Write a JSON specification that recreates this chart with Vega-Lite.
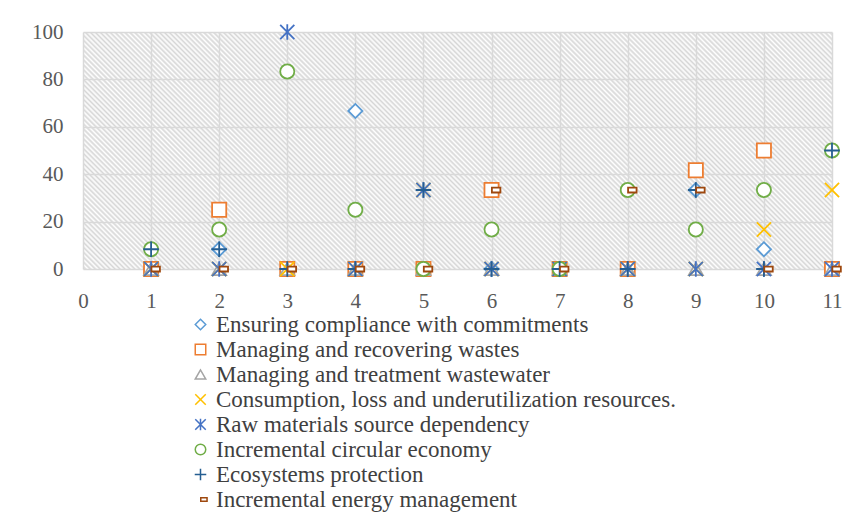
{
  "$schema": "https://vega.github.io/schema/vega-lite/v6.json",
  "width": 749,
  "height": 237,
  "autosize": {"type": "none"},
  "padding": {"left": 83, "top": 32, "right": 19, "bottom": 243},
  "background": "white",
  "config": {
    "view": {"stroke": null, "fill": {"gradient": "linear", "x1": 0, "y1": 1, "x2": 1.1966, "y2": 0.6214, "stops": [
      {"offset":0,"color":"#fff"},{"offset":0.0025,"color":"#d6d6d6"},{"offset":0.005,"color":"#fff"},{"offset":0.0075,"color":"#d6d6d6"},
      {"offset":0.01,"color":"#fff"},{"offset":0.0125,"color":"#d6d6d6"},{"offset":0.015,"color":"#fff"},{"offset":0.0175,"color":"#d6d6d6"},
      {"offset":0.02,"color":"#fff"},{"offset":0.0225,"color":"#d6d6d6"},{"offset":0.025,"color":"#fff"},{"offset":0.0275,"color":"#d6d6d6"},
      {"offset":0.03,"color":"#fff"},{"offset":0.0325,"color":"#d6d6d6"},{"offset":0.035,"color":"#fff"},{"offset":0.0375,"color":"#d6d6d6"},
      {"offset":0.04,"color":"#fff"},{"offset":0.0425,"color":"#d6d6d6"},{"offset":0.045,"color":"#fff"},{"offset":0.0475,"color":"#d6d6d6"},
      {"offset":0.05,"color":"#fff"},{"offset":0.0525,"color":"#d6d6d6"},{"offset":0.055,"color":"#fff"},{"offset":0.0575,"color":"#d6d6d6"},
      {"offset":0.06,"color":"#fff"},{"offset":0.0625,"color":"#d6d6d6"},{"offset":0.065,"color":"#fff"},{"offset":0.0675,"color":"#d6d6d6"},
      {"offset":0.07,"color":"#fff"},{"offset":0.0725,"color":"#d6d6d6"},{"offset":0.075,"color":"#fff"},{"offset":0.0775,"color":"#d6d6d6"},
      {"offset":0.08,"color":"#fff"},{"offset":0.0825,"color":"#d6d6d6"},{"offset":0.085,"color":"#fff"},{"offset":0.0875,"color":"#d6d6d6"},
      {"offset":0.09,"color":"#fff"},{"offset":0.0925,"color":"#d6d6d6"},{"offset":0.095,"color":"#fff"},{"offset":0.0975,"color":"#d6d6d6"},
      {"offset":0.1,"color":"#fff"},{"offset":0.1025,"color":"#d6d6d6"},{"offset":0.105,"color":"#fff"},{"offset":0.1075,"color":"#d6d6d6"},
      {"offset":0.11,"color":"#fff"},{"offset":0.1125,"color":"#d6d6d6"},{"offset":0.115,"color":"#fff"},{"offset":0.1175,"color":"#d6d6d6"},
      {"offset":0.12,"color":"#fff"},{"offset":0.1225,"color":"#d6d6d6"},{"offset":0.125,"color":"#fff"},{"offset":0.1275,"color":"#d6d6d6"},
      {"offset":0.13,"color":"#fff"},{"offset":0.1325,"color":"#d6d6d6"},{"offset":0.135,"color":"#fff"},{"offset":0.1375,"color":"#d6d6d6"},
      {"offset":0.14,"color":"#fff"},{"offset":0.1425,"color":"#d6d6d6"},{"offset":0.145,"color":"#fff"},{"offset":0.1475,"color":"#d6d6d6"},
      {"offset":0.15,"color":"#fff"},{"offset":0.1525,"color":"#d6d6d6"},{"offset":0.155,"color":"#fff"},{"offset":0.1575,"color":"#d6d6d6"},
      {"offset":0.16,"color":"#fff"},{"offset":0.1625,"color":"#d6d6d6"},{"offset":0.165,"color":"#fff"},{"offset":0.1675,"color":"#d6d6d6"},
      {"offset":0.17,"color":"#fff"},{"offset":0.1725,"color":"#d6d6d6"},{"offset":0.175,"color":"#fff"},{"offset":0.1775,"color":"#d6d6d6"},
      {"offset":0.18,"color":"#fff"},{"offset":0.1825,"color":"#d6d6d6"},{"offset":0.185,"color":"#fff"},{"offset":0.1875,"color":"#d6d6d6"},
      {"offset":0.19,"color":"#fff"},{"offset":0.1925,"color":"#d6d6d6"},{"offset":0.195,"color":"#fff"},{"offset":0.1975,"color":"#d6d6d6"},
      {"offset":0.2,"color":"#fff"},{"offset":0.2025,"color":"#d6d6d6"},{"offset":0.205,"color":"#fff"},{"offset":0.2075,"color":"#d6d6d6"},
      {"offset":0.21,"color":"#fff"},{"offset":0.2125,"color":"#d6d6d6"},{"offset":0.215,"color":"#fff"},{"offset":0.2175,"color":"#d6d6d6"},
      {"offset":0.22,"color":"#fff"},{"offset":0.2225,"color":"#d6d6d6"},{"offset":0.225,"color":"#fff"},{"offset":0.2275,"color":"#d6d6d6"},
      {"offset":0.23,"color":"#fff"},{"offset":0.2325,"color":"#d6d6d6"},{"offset":0.235,"color":"#fff"},{"offset":0.2375,"color":"#d6d6d6"},
      {"offset":0.24,"color":"#fff"},{"offset":0.2425,"color":"#d6d6d6"},{"offset":0.245,"color":"#fff"},{"offset":0.2475,"color":"#d6d6d6"},
      {"offset":0.25,"color":"#fff"},{"offset":0.2525,"color":"#d6d6d6"},{"offset":0.255,"color":"#fff"},{"offset":0.2575,"color":"#d6d6d6"},
      {"offset":0.26,"color":"#fff"},{"offset":0.2625,"color":"#d6d6d6"},{"offset":0.265,"color":"#fff"},{"offset":0.2675,"color":"#d6d6d6"},
      {"offset":0.27,"color":"#fff"},{"offset":0.2725,"color":"#d6d6d6"},{"offset":0.275,"color":"#fff"},{"offset":0.2775,"color":"#d6d6d6"},
      {"offset":0.28,"color":"#fff"},{"offset":0.2825,"color":"#d6d6d6"},{"offset":0.285,"color":"#fff"},{"offset":0.2875,"color":"#d6d6d6"},
      {"offset":0.29,"color":"#fff"},{"offset":0.2925,"color":"#d6d6d6"},{"offset":0.295,"color":"#fff"},{"offset":0.2975,"color":"#d6d6d6"},
      {"offset":0.3,"color":"#fff"},{"offset":0.3025,"color":"#d6d6d6"},{"offset":0.305,"color":"#fff"},{"offset":0.3075,"color":"#d6d6d6"},
      {"offset":0.31,"color":"#fff"},{"offset":0.3125,"color":"#d6d6d6"},{"offset":0.315,"color":"#fff"},{"offset":0.3175,"color":"#d6d6d6"},
      {"offset":0.32,"color":"#fff"},{"offset":0.3225,"color":"#d6d6d6"},{"offset":0.325,"color":"#fff"},{"offset":0.3275,"color":"#d6d6d6"},
      {"offset":0.33,"color":"#fff"},{"offset":0.3325,"color":"#d6d6d6"},{"offset":0.335,"color":"#fff"},{"offset":0.3375,"color":"#d6d6d6"},
      {"offset":0.34,"color":"#fff"},{"offset":0.3425,"color":"#d6d6d6"},{"offset":0.345,"color":"#fff"},{"offset":0.3475,"color":"#d6d6d6"},
      {"offset":0.35,"color":"#fff"},{"offset":0.3525,"color":"#d6d6d6"},{"offset":0.355,"color":"#fff"},{"offset":0.3575,"color":"#d6d6d6"},
      {"offset":0.36,"color":"#fff"},{"offset":0.3625,"color":"#d6d6d6"},{"offset":0.365,"color":"#fff"},{"offset":0.3675,"color":"#d6d6d6"},
      {"offset":0.37,"color":"#fff"},{"offset":0.3725,"color":"#d6d6d6"},{"offset":0.375,"color":"#fff"},{"offset":0.3775,"color":"#d6d6d6"},
      {"offset":0.38,"color":"#fff"},{"offset":0.3825,"color":"#d6d6d6"},{"offset":0.385,"color":"#fff"},{"offset":0.3875,"color":"#d6d6d6"},
      {"offset":0.39,"color":"#fff"},{"offset":0.3925,"color":"#d6d6d6"},{"offset":0.395,"color":"#fff"},{"offset":0.3975,"color":"#d6d6d6"},
      {"offset":0.4,"color":"#fff"},{"offset":0.4025,"color":"#d6d6d6"},{"offset":0.405,"color":"#fff"},{"offset":0.4075,"color":"#d6d6d6"},
      {"offset":0.41,"color":"#fff"},{"offset":0.4125,"color":"#d6d6d6"},{"offset":0.415,"color":"#fff"},{"offset":0.4175,"color":"#d6d6d6"},
      {"offset":0.42,"color":"#fff"},{"offset":0.4225,"color":"#d6d6d6"},{"offset":0.425,"color":"#fff"},{"offset":0.4275,"color":"#d6d6d6"},
      {"offset":0.43,"color":"#fff"},{"offset":0.4325,"color":"#d6d6d6"},{"offset":0.435,"color":"#fff"},{"offset":0.4375,"color":"#d6d6d6"},
      {"offset":0.44,"color":"#fff"},{"offset":0.4425,"color":"#d6d6d6"},{"offset":0.445,"color":"#fff"},{"offset":0.4475,"color":"#d6d6d6"},
      {"offset":0.45,"color":"#fff"},{"offset":0.4525,"color":"#d6d6d6"},{"offset":0.455,"color":"#fff"},{"offset":0.4575,"color":"#d6d6d6"},
      {"offset":0.46,"color":"#fff"},{"offset":0.4625,"color":"#d6d6d6"},{"offset":0.465,"color":"#fff"},{"offset":0.4675,"color":"#d6d6d6"},
      {"offset":0.47,"color":"#fff"},{"offset":0.4725,"color":"#d6d6d6"},{"offset":0.475,"color":"#fff"},{"offset":0.4775,"color":"#d6d6d6"},
      {"offset":0.48,"color":"#fff"},{"offset":0.4825,"color":"#d6d6d6"},{"offset":0.485,"color":"#fff"},{"offset":0.4875,"color":"#d6d6d6"},
      {"offset":0.49,"color":"#fff"},{"offset":0.4925,"color":"#d6d6d6"},{"offset":0.495,"color":"#fff"},{"offset":0.4975,"color":"#d6d6d6"},
      {"offset":0.5,"color":"#fff"},{"offset":0.5025,"color":"#d6d6d6"},{"offset":0.505,"color":"#fff"},{"offset":0.5075,"color":"#d6d6d6"},
      {"offset":0.51,"color":"#fff"},{"offset":0.5125,"color":"#d6d6d6"},{"offset":0.515,"color":"#fff"},{"offset":0.5175,"color":"#d6d6d6"},
      {"offset":0.52,"color":"#fff"},{"offset":0.5225,"color":"#d6d6d6"},{"offset":0.525,"color":"#fff"},{"offset":0.5275,"color":"#d6d6d6"},
      {"offset":0.53,"color":"#fff"},{"offset":0.5325,"color":"#d6d6d6"},{"offset":0.535,"color":"#fff"},{"offset":0.5375,"color":"#d6d6d6"},
      {"offset":0.54,"color":"#fff"},{"offset":0.5425,"color":"#d6d6d6"},{"offset":0.545,"color":"#fff"},{"offset":0.5475,"color":"#d6d6d6"},
      {"offset":0.55,"color":"#fff"},{"offset":0.5525,"color":"#d6d6d6"},{"offset":0.555,"color":"#fff"},{"offset":0.5575,"color":"#d6d6d6"},
      {"offset":0.56,"color":"#fff"},{"offset":0.5625,"color":"#d6d6d6"},{"offset":0.565,"color":"#fff"},{"offset":0.5675,"color":"#d6d6d6"},
      {"offset":0.57,"color":"#fff"},{"offset":0.5725,"color":"#d6d6d6"},{"offset":0.575,"color":"#fff"},{"offset":0.5775,"color":"#d6d6d6"},
      {"offset":0.58,"color":"#fff"},{"offset":0.5825,"color":"#d6d6d6"},{"offset":0.585,"color":"#fff"},{"offset":0.5875,"color":"#d6d6d6"},
      {"offset":0.59,"color":"#fff"},{"offset":0.5925,"color":"#d6d6d6"},{"offset":0.595,"color":"#fff"},{"offset":0.5975,"color":"#d6d6d6"},
      {"offset":0.6,"color":"#fff"},{"offset":0.6025,"color":"#d6d6d6"},{"offset":0.605,"color":"#fff"},{"offset":0.6075,"color":"#d6d6d6"},
      {"offset":0.61,"color":"#fff"},{"offset":0.6125,"color":"#d6d6d6"},{"offset":0.615,"color":"#fff"},{"offset":0.6175,"color":"#d6d6d6"},
      {"offset":0.62,"color":"#fff"},{"offset":0.6225,"color":"#d6d6d6"},{"offset":0.625,"color":"#fff"},{"offset":0.6275,"color":"#d6d6d6"},
      {"offset":0.63,"color":"#fff"},{"offset":0.6325,"color":"#d6d6d6"},{"offset":0.635,"color":"#fff"},{"offset":0.6375,"color":"#d6d6d6"},
      {"offset":0.64,"color":"#fff"},{"offset":0.6425,"color":"#d6d6d6"},{"offset":0.645,"color":"#fff"},{"offset":0.6475,"color":"#d6d6d6"},
      {"offset":0.65,"color":"#fff"},{"offset":0.6525,"color":"#d6d6d6"},{"offset":0.655,"color":"#fff"},{"offset":0.6575,"color":"#d6d6d6"},
      {"offset":0.66,"color":"#fff"},{"offset":0.6625,"color":"#d6d6d6"},{"offset":0.665,"color":"#fff"},{"offset":0.6675,"color":"#d6d6d6"},
      {"offset":0.67,"color":"#fff"},{"offset":0.6725,"color":"#d6d6d6"},{"offset":0.675,"color":"#fff"},{"offset":0.6775,"color":"#d6d6d6"},
      {"offset":0.68,"color":"#fff"},{"offset":0.6825,"color":"#d6d6d6"},{"offset":0.685,"color":"#fff"},{"offset":0.6875,"color":"#d6d6d6"},
      {"offset":0.69,"color":"#fff"},{"offset":0.6925,"color":"#d6d6d6"},{"offset":0.695,"color":"#fff"},{"offset":0.6975,"color":"#d6d6d6"},
      {"offset":0.7,"color":"#fff"},{"offset":0.7025,"color":"#d6d6d6"},{"offset":0.705,"color":"#fff"},{"offset":0.7075,"color":"#d6d6d6"},
      {"offset":0.71,"color":"#fff"},{"offset":0.7125,"color":"#d6d6d6"},{"offset":0.715,"color":"#fff"},{"offset":0.7175,"color":"#d6d6d6"},
      {"offset":0.72,"color":"#fff"},{"offset":0.7225,"color":"#d6d6d6"},{"offset":0.725,"color":"#fff"},{"offset":0.7275,"color":"#d6d6d6"},
      {"offset":0.73,"color":"#fff"},{"offset":0.7325,"color":"#d6d6d6"},{"offset":0.735,"color":"#fff"},{"offset":0.7375,"color":"#d6d6d6"},
      {"offset":0.74,"color":"#fff"},{"offset":0.7425,"color":"#d6d6d6"},{"offset":0.745,"color":"#fff"},{"offset":0.7475,"color":"#d6d6d6"},
      {"offset":0.75,"color":"#fff"},{"offset":0.7525,"color":"#d6d6d6"},{"offset":0.755,"color":"#fff"},{"offset":0.7575,"color":"#d6d6d6"},
      {"offset":0.76,"color":"#fff"},{"offset":0.7625,"color":"#d6d6d6"},{"offset":0.765,"color":"#fff"},{"offset":0.7675,"color":"#d6d6d6"},
      {"offset":0.77,"color":"#fff"},{"offset":0.7725,"color":"#d6d6d6"},{"offset":0.775,"color":"#fff"},{"offset":0.7775,"color":"#d6d6d6"},
      {"offset":0.78,"color":"#fff"},{"offset":0.7825,"color":"#d6d6d6"},{"offset":0.785,"color":"#fff"},{"offset":0.7875,"color":"#d6d6d6"},
      {"offset":0.79,"color":"#fff"},{"offset":0.7925,"color":"#d6d6d6"},{"offset":0.795,"color":"#fff"},{"offset":0.7975,"color":"#d6d6d6"},
      {"offset":0.8,"color":"#fff"},{"offset":0.8025,"color":"#d6d6d6"},{"offset":0.805,"color":"#fff"},{"offset":0.8075,"color":"#d6d6d6"},
      {"offset":0.81,"color":"#fff"},{"offset":0.8125,"color":"#d6d6d6"},{"offset":0.815,"color":"#fff"},{"offset":0.8175,"color":"#d6d6d6"},
      {"offset":0.82,"color":"#fff"},{"offset":0.8225,"color":"#d6d6d6"},{"offset":0.825,"color":"#fff"},{"offset":0.8275,"color":"#d6d6d6"},
      {"offset":0.83,"color":"#fff"},{"offset":0.8325,"color":"#d6d6d6"},{"offset":0.835,"color":"#fff"},{"offset":0.8375,"color":"#d6d6d6"},
      {"offset":0.84,"color":"#fff"},{"offset":0.8425,"color":"#d6d6d6"},{"offset":0.845,"color":"#fff"},{"offset":0.8475,"color":"#d6d6d6"},
      {"offset":0.85,"color":"#fff"},{"offset":0.8525,"color":"#d6d6d6"},{"offset":0.855,"color":"#fff"},{"offset":0.8575,"color":"#d6d6d6"},
      {"offset":0.86,"color":"#fff"},{"offset":0.8625,"color":"#d6d6d6"},{"offset":0.865,"color":"#fff"},{"offset":0.8675,"color":"#d6d6d6"},
      {"offset":0.87,"color":"#fff"},{"offset":0.8725,"color":"#d6d6d6"},{"offset":0.875,"color":"#fff"},{"offset":0.8775,"color":"#d6d6d6"},
      {"offset":0.88,"color":"#fff"},{"offset":0.8825,"color":"#d6d6d6"},{"offset":0.885,"color":"#fff"},{"offset":0.8875,"color":"#d6d6d6"},
      {"offset":0.89,"color":"#fff"},{"offset":0.8925,"color":"#d6d6d6"},{"offset":0.895,"color":"#fff"},{"offset":0.8975,"color":"#d6d6d6"},
      {"offset":0.9,"color":"#fff"},{"offset":0.9025,"color":"#d6d6d6"},{"offset":0.905,"color":"#fff"},{"offset":0.9075,"color":"#d6d6d6"},
      {"offset":0.91,"color":"#fff"},{"offset":0.9125,"color":"#d6d6d6"},{"offset":0.915,"color":"#fff"},{"offset":0.9175,"color":"#d6d6d6"},
      {"offset":0.92,"color":"#fff"},{"offset":0.9225,"color":"#d6d6d6"},{"offset":0.925,"color":"#fff"},{"offset":0.9275,"color":"#d6d6d6"},
      {"offset":0.93,"color":"#fff"},{"offset":0.9325,"color":"#d6d6d6"},{"offset":0.935,"color":"#fff"},{"offset":0.9375,"color":"#d6d6d6"},
      {"offset":0.94,"color":"#fff"},{"offset":0.9425,"color":"#d6d6d6"},{"offset":0.945,"color":"#fff"},{"offset":0.9475,"color":"#d6d6d6"},
      {"offset":0.95,"color":"#fff"},{"offset":0.9525,"color":"#d6d6d6"},{"offset":0.955,"color":"#fff"},{"offset":0.9575,"color":"#d6d6d6"},
      {"offset":0.96,"color":"#fff"},{"offset":0.9625,"color":"#d6d6d6"},{"offset":0.965,"color":"#fff"},{"offset":0.9675,"color":"#d6d6d6"},
      {"offset":0.97,"color":"#fff"},{"offset":0.9725,"color":"#d6d6d6"},{"offset":0.975,"color":"#fff"},{"offset":0.9775,"color":"#d6d6d6"},
      {"offset":0.98,"color":"#fff"},{"offset":0.9825,"color":"#d6d6d6"},{"offset":0.985,"color":"#fff"},{"offset":0.9875,"color":"#d6d6d6"},
      {"offset":0.99,"color":"#fff"},{"offset":0.9925,"color":"#d6d6d6"},{"offset":0.995,"color":"#fff"},{"offset":0.9975,"color":"#d6d6d6"},
      {"offset":1,"color":"#fff"}
    ]}},
    "font": "Liberation Serif"
  },
  "data": {
    "values": [
      {"series": "Ensuring compliance with commitments", "x": 1, "y": 0},
      {"series": "Ensuring compliance with commitments", "x": 2, "y": 8.33},
      {"series": "Ensuring compliance with commitments", "x": 3, "y": 0},
      {"series": "Ensuring compliance with commitments", "x": 4, "y": 66.67},
      {"series": "Ensuring compliance with commitments", "x": 5, "y": 0},
      {"series": "Ensuring compliance with commitments", "x": 6, "y": 0},
      {"series": "Ensuring compliance with commitments", "x": 7, "y": 0},
      {"series": "Ensuring compliance with commitments", "x": 8, "y": 0},
      {"series": "Ensuring compliance with commitments", "x": 9, "y": 33.33},
      {"series": "Ensuring compliance with commitments", "x": 10, "y": 8.33},
      {"series": "Ensuring compliance with commitments", "x": 11, "y": 0},
      {"series": "Managing and recovering wastes", "x": 1, "y": 0},
      {"series": "Managing and recovering wastes", "x": 2, "y": 25},
      {"series": "Managing and recovering wastes", "x": 3, "y": 0},
      {"series": "Managing and recovering wastes", "x": 4, "y": 0},
      {"series": "Managing and recovering wastes", "x": 5, "y": 0},
      {"series": "Managing and recovering wastes", "x": 6, "y": 33.33},
      {"series": "Managing and recovering wastes", "x": 7, "y": 0},
      {"series": "Managing and recovering wastes", "x": 8, "y": 0},
      {"series": "Managing and recovering wastes", "x": 9, "y": 41.67},
      {"series": "Managing and recovering wastes", "x": 10, "y": 50},
      {"series": "Managing and recovering wastes", "x": 11, "y": 0},
      {"series": "Managing and treatment wastewater", "x": 1, "y": 0},
      {"series": "Managing and treatment wastewater", "x": 2, "y": 0},
      {"series": "Managing and treatment wastewater", "x": 3, "y": 0},
      {"series": "Managing and treatment wastewater", "x": 4, "y": 0},
      {"series": "Managing and treatment wastewater", "x": 5, "y": 0},
      {"series": "Managing and treatment wastewater", "x": 6, "y": 0},
      {"series": "Managing and treatment wastewater", "x": 7, "y": 0},
      {"series": "Managing and treatment wastewater", "x": 8, "y": 0},
      {"series": "Managing and treatment wastewater", "x": 9, "y": 0},
      {"series": "Managing and treatment wastewater", "x": 10, "y": 0},
      {"series": "Managing and treatment wastewater", "x": 11, "y": 0},
      {"series": "Consumption, loss and underutilization resources.", "x": 1, "y": 0},
      {"series": "Consumption, loss and underutilization resources.", "x": 2, "y": 0},
      {"series": "Consumption, loss and underutilization resources.", "x": 3, "y": 0},
      {"series": "Consumption, loss and underutilization resources.", "x": 4, "y": 0},
      {"series": "Consumption, loss and underutilization resources.", "x": 5, "y": 33.33},
      {"series": "Consumption, loss and underutilization resources.", "x": 6, "y": 0},
      {"series": "Consumption, loss and underutilization resources.", "x": 7, "y": 0},
      {"series": "Consumption, loss and underutilization resources.", "x": 8, "y": 0},
      {"series": "Consumption, loss and underutilization resources.", "x": 9, "y": 0},
      {"series": "Consumption, loss and underutilization resources.", "x": 10, "y": 16.67},
      {"series": "Consumption, loss and underutilization resources.", "x": 11, "y": 33.33},
      {"series": "Raw materials source dependency", "x": 1, "y": 0},
      {"series": "Raw materials source dependency", "x": 2, "y": 0},
      {"series": "Raw materials source dependency", "x": 3, "y": 100},
      {"series": "Raw materials source dependency", "x": 4, "y": 0},
      {"series": "Raw materials source dependency", "x": 5, "y": 33.33},
      {"series": "Raw materials source dependency", "x": 6, "y": 0},
      {"series": "Raw materials source dependency", "x": 7, "y": 0},
      {"series": "Raw materials source dependency", "x": 8, "y": 0},
      {"series": "Raw materials source dependency", "x": 9, "y": 0},
      {"series": "Raw materials source dependency", "x": 10, "y": 0},
      {"series": "Raw materials source dependency", "x": 11, "y": 0},
      {"series": "Incremental circular economy", "x": 1, "y": 8.33},
      {"series": "Incremental circular economy", "x": 2, "y": 16.67},
      {"series": "Incremental circular economy", "x": 3, "y": 83.33},
      {"series": "Incremental circular economy", "x": 4, "y": 25},
      {"series": "Incremental circular economy", "x": 5, "y": 0},
      {"series": "Incremental circular economy", "x": 6, "y": 16.67},
      {"series": "Incremental circular economy", "x": 7, "y": 0},
      {"series": "Incremental circular economy", "x": 8, "y": 33.33},
      {"series": "Incremental circular economy", "x": 9, "y": 16.67},
      {"series": "Incremental circular economy", "x": 10, "y": 33.33},
      {"series": "Incremental circular economy", "x": 11, "y": 50},
      {"series": "Ecosystems protection", "x": 1, "y": 8.33},
      {"series": "Ecosystems protection", "x": 2, "y": 8.33},
      {"series": "Ecosystems protection", "x": 3, "y": 0},
      {"series": "Ecosystems protection", "x": 4, "y": 0},
      {"series": "Ecosystems protection", "x": 5, "y": 33.33},
      {"series": "Ecosystems protection", "x": 6, "y": 0},
      {"series": "Ecosystems protection", "x": 7, "y": 0},
      {"series": "Ecosystems protection", "x": 8, "y": 0},
      {"series": "Ecosystems protection", "x": 9, "y": 33.33},
      {"series": "Ecosystems protection", "x": 10, "y": 0},
      {"series": "Ecosystems protection", "x": 11, "y": 50},
      {"series": "Incremental energy management", "x": 1, "y": 0},
      {"series": "Incremental energy management", "x": 2, "y": 0},
      {"series": "Incremental energy management", "x": 3, "y": 0},
      {"series": "Incremental energy management", "x": 4, "y": 0},
      {"series": "Incremental energy management", "x": 5, "y": 0},
      {"series": "Incremental energy management", "x": 6, "y": 33.33},
      {"series": "Incremental energy management", "x": 7, "y": 0},
      {"series": "Incremental energy management", "x": 8, "y": 33.33},
      {"series": "Incremental energy management", "x": 9, "y": 33.33},
      {"series": "Incremental energy management", "x": 10, "y": 0},
      {"series": "Incremental energy management", "x": 11, "y": 0}
    ]
  },
  "mark": {"type": "point", "filled": false, "fill": "white", "strokeWidth": 1.8, "size": 200, "opacity": 1},
  "encoding": {
    "x": {
      "field": "x", "type": "quantitative",
      "scale": {"domain": [0, 11], "nice": false, "zero": true},
      "axis": {
        "title": null, "values": [0,1,2,3,4,5,6,7,8,9,10,11], "format": "d",
        "grid": true, "gridColor": "#d9d9d9", "gridWidth": 1.5,
        "domain": false, "ticks": false,
        "labelFont": "Liberation Serif", "labelFontSize": 21, "labelColor": "#595959",
        "labelPadding": 21, "labelFlush": false
      }
    },
    "y": {
      "field": "y", "type": "quantitative",
      "scale": {"domain": [0, 100], "nice": false},
      "axis": {
        "title": null, "values": [0,20,40,60,80,100],
        "grid": true, "gridColor": "#d9d9d9", "gridWidth": 1.5,
        "domain": false, "ticks": false,
        "labelFont": "Liberation Serif", "labelFontSize": 21, "labelColor": "#595959",
        "labelPadding": 20, "labelFlush": false
      }
    },
    "color": {
      "field": "series", "type": "nominal",
      "sort": null,
      "scale": {
        "domain": ["Ensuring compliance with commitments", "Managing and recovering wastes", "Managing and treatment wastewater", "Consumption, loss and underutilization resources.", "Raw materials source dependency", "Incremental circular economy", "Ecosystems protection", "Incremental energy management"],
        "range": ["#5B9BD5", "#ED7D31", "#A5A5A5", "#FFC000", "#4472C4", "#70AD47", "#255E91", "#9E480E"]
      },
      "legend": {
        "orient": "none", "legendX": 106, "legendY": 281, "direction": "vertical",
        "title": null, "labelFont": "Liberation Serif", "labelFontSize": 23, "labelColor": "#404040",
        "labelLimit": 0, "rowPadding": 1, "symbolSize": 110, "symbolStrokeWidth": 1.5, "labelOffset": 4
      }
    },
    "shape": {
      "field": "series", "type": "nominal",
      "sort": null,
      "scale": {
        "domain": ["Ensuring compliance with commitments", "Managing and recovering wastes", "Managing and treatment wastewater", "Consumption, loss and underutilization resources.", "Raw materials source dependency", "Incremental circular economy", "Ecosystems protection", "Incremental energy management"],
        "range": ["diamond", "square", "triangle-up", "M-1,-1L1,1M-1,1L1,-1", "M-1,-1L1,1M-1,1L1,-1M0,-1.1L0,1.1", "circle", "M-1.1,0L1.1,0M0,-1.1L0,1.1", "M0.05,-0.35L1.25,-0.35L1.25,0.35L0.05,0.35Z"]
      },
      "legend": null
    }
  }
}
